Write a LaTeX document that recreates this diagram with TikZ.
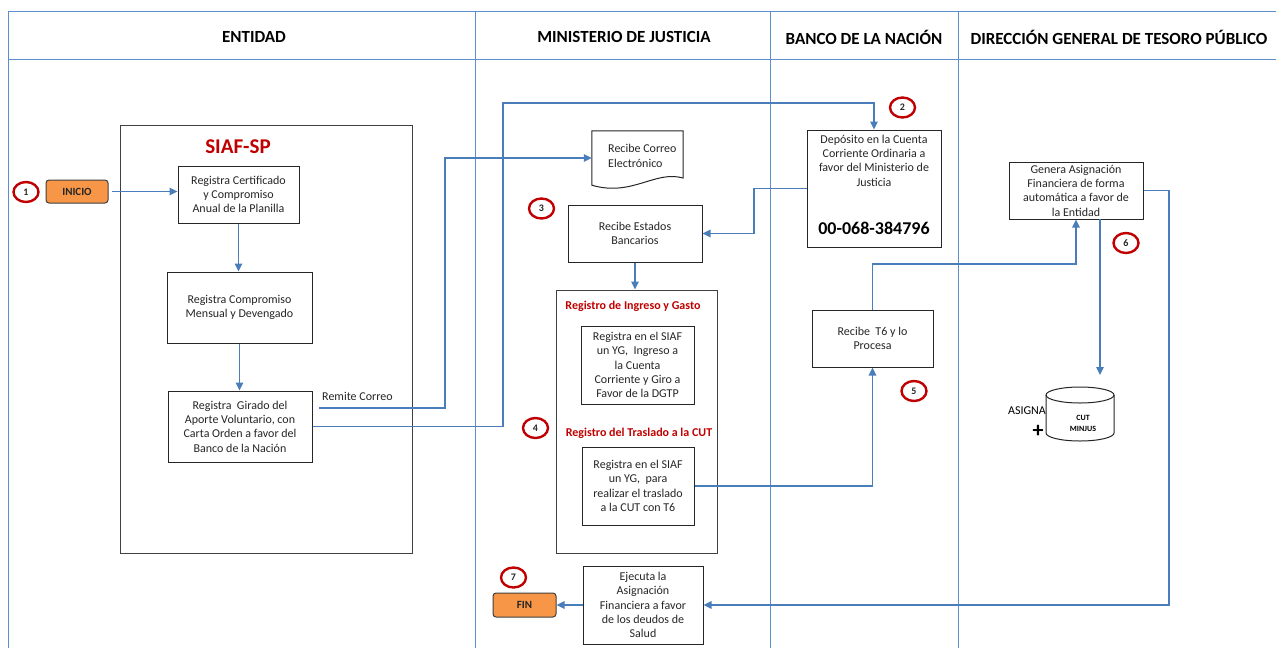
\documentclass[tikz,border=0pt]{standalone}
\usepackage{fontspec}
\setmainfont{Carlito}
\usetikzlibrary{arrows.meta,shapes.geometric}
\definecolor{lane}{RGB}{91,142,204}
\definecolor{conn}{RGB}{74,126,187}
\definecolor{redc}{RGB}{192,0,0}
\definecolor{orng}{RGB}{247,150,70}
\definecolor{txt}{RGB}{38,38,38}
\begin{document}
\begin{tikzpicture}[x=1pt,y=-1pt,
  lanel/.style={draw=lane, line width=0.9pt},
  hdr/.style={font=\fontsize{17}{20}\selectfont\bfseries, text=black, inner sep=0pt},
  box/.style 2 args={draw=black!85, line width=1pt, minimum width=#1pt, minimum height=#2pt, inner sep=0pt, align=center, font=\fontsize{12}{14.3}\selectfont, text=txt},
  frame/.style 2 args={draw=black!75, line width=1pt, minimum width=#1pt, minimum height=#2pt, inner sep=0pt},
  term/.style 2 args={draw=black!75, line width=1pt, fill=orng, rounded corners=3pt, minimum width=#1pt, minimum height=#2pt, inner sep=0pt, font=\fontsize{11}{13}\selectfont\bfseries, text=txt},
  num/.style={draw=redc, line width=2.4pt, ellipse, minimum width=25pt, minimum height=20pt, inner sep=0pt, font=\fontsize{10}{12}\selectfont\bfseries, text=txt},
  redtitle/.style={text=redc, font=\fontsize{12}{14}\selectfont\bfseries, inner sep=0pt},
  conn/.style={draw=conn, line width=1.1pt},
  arr/.style={conn, -{Triangle[length=8pt,width=7.5pt]}},
  plain/.style={inner sep=0pt, text=txt, font=\fontsize{12}{14.3}\selectfont, align=left}
]
\useasboundingbox (0,0) rectangle (1276,648);
\fill[white] (0,0) rectangle (1276,648);

% lanes
\draw[lanel] (8,11) -- (1276,11);
\draw[lanel] (8,59) -- (1276,59);
\foreach \xx in {8,475,770,958} \draw[lanel] (\xx,11) -- (\xx,648);

% headers
\node[hdr] (h1) at (254,37) {ENTIDAD};
\node[hdr] (h2) at (624,37) {MINISTERIO DE JUSTICIA};
\node[hdr] (h3) at (864,37) {BANCO DE LA NACIÓN};
\node[hdr] (h4) at (1119,37) {DIRECCIÓN GENERAL DE TESORO PÚBLICO};

% ENTIDAD lane
\node[frame={292}{428}] (siaf) at (266,339) {};
\node[text=redc, font=\fontsize{21}{24}\selectfont\bfseries, inner sep=0pt] (siaft) at (238,147) {SIAF-SP};
\node[num] (n1) at (26,192) {1};
\node[term={62}{23}] (inicio) at (77,191.5) {INICIO};
\node[box={121}{57}] (ba) at (238.5,194.5) {Registra Certificado\\y Compromiso\\Anual de la Planilla};
\node[box={145}{71}] (bb) at (239.5,307.5) {Registra Compromiso\\Mensual y Devengado};
\node[box={144}{71}] (bc) at (240,426.5) {Registra~~Girado del\\Aporte Voluntario, con\\Carta Orden a favor del\\Banco de la Nación};
\node[plain, anchor=west] (remite) at (322,396) {Remite Correo};

% MINISTERIO lane
\node[minimum width=91pt, minimum height=54pt, inner sep=0pt] (doc) at (637.5,158) {};
\draw[draw=black!85, line width=1pt] (doc.south west) -- (doc.north west) -- (doc.north east) -- (683,178) .. controls (655,170) and (632,197) .. (doc.south west) -- cycle;
\node[plain, anchor=west] (doct) at (608,156) {Recibe Correo\\Electrónico};
\node[num] (n3) at (541.5,208.5) {3};
\node[box={134}{57}] (est) at (635,233.5) {Recibe Estados\\Bancarios};
\node[frame={161}{263}] (reg) at (636.5,421.5) {};
\node[redtitle] (rt1) at (633,306) {Registro de Ingreso y Gasto};
\node[box={113}{78}] (in1) at (637.5,365) {Registra en el SIAF\\un YG,~~Ingreso a\\la Cuenta\\Corriente y Giro a\\Favor de la DGTP};
\node[num] (n4) at (535.5,428) {4};
\node[redtitle] (rt2) at (639,433) {Registro del Traslado a la CUT};
\node[box={112}{78}] (in2) at (638,486) {Registra en el SIAF\\un YG,~~para\\realizar el traslado\\a la CUT con T6};
\node[num] (n7) at (513.5,577.5) {7};
\node[term={63}{24}] (fin) at (524.5,605) {FIN};
\node[box={120}{78}] (ej) at (643,605) {Ejecuta la\\Asignación\\Financiera a favor\\de los deudos de\\Salud};

% BANCO lane
\node[num] (n2) at (902.5,107.5) {2};
\node[box={134}{117}] (dep) at (874,188.5) {};
\node[plain, align=center] (dept) at (874,160.5) {Depósito en la Cuenta\\Corriente Ordinaria a\\favor del Ministerio de\\Justicia};
\node[inner sep=0pt, text=black, font=\fontsize{18}{20}\selectfont\bfseries] (depn) at (874,228) {00-068-384796};
\node[box={121}{57}] (t6) at (872.5,338.5) {Recibe~~T6 y lo\\Procesa};
\node[num] (n5) at (914,391) {5};

% DGTP lane
\node[box={134}{57}] (gen) at (1076,190.5) {Genera Asignación\\Financiera de forma\\automática a favor de\\la Entidad};
\node[num] (n6) at (1126,243) {6};
\node[minimum width=68pt, minimum height=54pt, inner sep=0pt] (cyl) at (1080,414) {};
\draw[draw=black!85, line width=1pt] (1080,395) ellipse [x radius=34, y radius=8];
\draw[draw=black!85, line width=1pt] (1046,395) -- (1046,433) arc[start angle=180, end angle=0, x radius=34, y radius=8] -- (1114,395);
\node[inner sep=0pt, align=center, text=black, font=\fontsize{8}{11}\selectfont\bfseries] (cylt) at (1083,423) {CUT\\MINJUS};
\node[inner sep=0pt, text=black, font=\fontsize{12}{14}\selectfont] (asig) at (1027,411) {ASIGNA};
\node[inner sep=0pt, text=black, font=\fontsize{22}{22}\selectfont\bfseries] (plus) at (1038,431) {+};

% connector helper coordinates
\coordinate (rm) at (319,408);
\coordinate (mailx) at (445,0);
\coordinate (topc) at (503,103);
\coordinate (bx) at (754,0);
\coordinate (t6y) at (0,264);
\coordinate (gsx) at (1100,219);
\coordinate (cylin) at (1100,375);
\coordinate (rx) at (1169,0);

% connectors
\draw[arr, shorten <=3pt] (inicio.east) -- (inicio.east -| ba.west);
\draw[arr] (ba.south) -- (ba.south |- bb.north);
\draw[arr] (bb.south) -- (bb.south |- bc.north);
\draw[arr] (rm) -- (rm -| mailx) |- (doc.west);
\draw[arr] (bc.east) -| (topc) -| (dep.north);
\draw[arr] (dep.west) -- (dep.west -| bx) |- (est.east);
\draw[arr] (est.south) -- (est.south |- reg.north);
\draw[arr] (in2.east) -| (t6.south);
\draw[arr] (t6.north) -- (t6.north |- t6y) -| (gen.south);
\draw[arr] (gsx) -- (cylin);
\draw[arr] (gen.east) -- (gen.east -| rx) |- (ej.east);
\draw[arr] (ej.west) -- (fin.east);
\end{tikzpicture}
\end{document}
